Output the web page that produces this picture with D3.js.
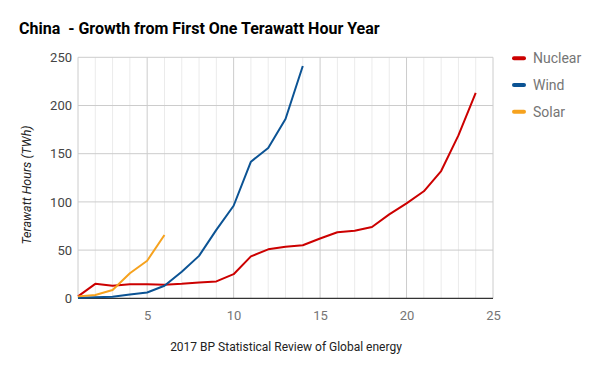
<!DOCTYPE html>
<html>
<head>
<meta charset="utf-8">
<script src="https://cdn.jsdelivr.net/npm/d3@7"></script>
<style>
  body { margin: 0; background: #fff; }
  svg { font-family: Roboto, sans-serif; }
</style>
</head>
<body>
<svg id="chart"></svg>
<script>
let years = d3.range(1, 25)
let nuclear = [2, 15, 13, 14.5, 14.5, 14, 15, 16.5, 17.5, 25, 43.5, 50.8, 53.5, 55, 62, 68.5, 70, 74, 87, 98.5, 111, 132, 169, 213]
let wind = [0.5, 1, 1.5, 4, 6, 13, 27.6, 44, 71, 96, 141.7, 156, 186, 241]
let solar = [2, 3.5, 8.6, 26, 39, 65.7]
let seriesNames = ['Nuclear', 'Wind', 'Solar']
let colors = ['#cc0000', '#0b5394', '#f6a21e']
let xTicks = [5, 10, 15, 20, 25]
let yTicks = [0, 50, 100, 150, 200, 250]

let width = 600
let height = 371
let plotLeft = 78
let plotRight = 493
let plotTop = 57.3
let plotBottom = 298.3

let svg = d3.select('#chart')
    .attr('width', width)
    .attr('height', height)

let xScale = d3.scaleLinear().domain([1, 25]).range([plotLeft, plotRight])
let yScale = d3.scaleLinear().domain([0, 250]).range([plotBottom, plotTop])

// minor vertical grid every 1
svg.append('g')
    .selectAll('line')
    .data(d3.range(2, 25).filter(d => d % 5 != 0))
    .enter()
    .append('line')
    .attr('x1', d => xScale(d)).attr('x2', d => xScale(d))
    .attr('y1', plotTop).attr('y2', plotBottom)
    .attr('stroke', '#ebebeb')

// major vertical grid
svg.append('g')
    .selectAll('line')
    .data(xTicks)
    .enter()
    .append('line')
    .attr('x1', d => xScale(d)).attr('x2', d => xScale(d))
    .attr('y1', plotTop).attr('y2', plotBottom)
    .attr('stroke', '#cccccc')

// horizontal grid
svg.append('g')
    .selectAll('line')
    .data(yTicks.slice(1))
    .enter()
    .append('line')
    .attr('x1', plotLeft).attr('x2', plotRight)
    .attr('y1', d => yScale(d)).attr('y2', d => yScale(d))
    .attr('stroke', '#cccccc')

// left edge
svg.append('line')
    .attr('x1', plotLeft).attr('x2', plotLeft)
    .attr('y1', plotTop).attr('y2', plotBottom)
    .attr('stroke', '#cccccc')

// baseline
svg.append('line')
    .attr('x1', plotLeft).attr('x2', plotRight)
    .attr('y1', yScale(0)).attr('y2', yScale(0))
    .attr('stroke', '#333333')
    .attr('stroke-width', 1.2)

let xAxis = d3.axisBottom(xScale).tickValues(xTicks).tickSize(0).tickPadding(12)
let gx = svg.append('g')
    .attr('transform', 'translate(0,' + plotBottom + ')')
    .call(xAxis)
gx.select('.domain').remove()
gx.selectAll('text').attr('fill', '#757575').style('font-size', '13px').style('font-family', 'Roboto')

let yAxis = d3.axisLeft(yScale).tickValues(yTicks).tickSize(0).tickPadding(6)
let gy = svg.append('g')
    .attr('transform', 'translate(' + plotLeft + ',0)')
    .call(yAxis)
gy.select('.domain').remove()
gy.selectAll('text').attr('fill', '#444444').style('font-size', '13px').style('font-family', 'Roboto')

let line = d3.line()
    .x((d, i) => xScale(years[i]))
    .y(d => yScale(d))

let allSeries = [nuclear, wind, solar]
svg.append('g')
    .selectAll('path')
    .data(allSeries)
    .enter()
    .append('path')
    .attr('d', d => line(d))
    .attr('fill', 'none')
    .attr('stroke', (d, i) => colors[i])
    .attr('stroke-width', 2)
    .attr('stroke-linejoin', 'round')

// title
svg.append('text')
    .attr('x', 19)
    .attr('y', 34)
    .attr('font-weight', 'bold')
    .style('font-size', '16px')
    .style('white-space', 'pre')
    .attr('fill', '#000')
    .text('China  - Growth from First One Terawatt Hour Year')

// y label
svg.append('text')
    .attr('transform', 'translate(31,185) rotate(-90)')
    .attr('text-anchor', 'middle')
    .attr('font-style', 'italic')
    .style('font-size', '12.5px')
    .attr('fill', '#222')
    .text('Terawatt Hours (TWh)')

// x label / source
svg.append('text')
    .attr('x', 286)
    .attr('y', 351)
    .attr('text-anchor', 'middle')
    .style('font-size', '12px')
    .attr('fill', '#222')
    .text('2017 BP Statistical Review of Global energy')

// legend
let legend = svg.append('g')
    .selectAll('g')
    .data(seriesNames)
    .enter()
    .append('g')
    .attr('transform', (d, i) => 'translate(0,' + (58.3 + i * 26.7) + ')')

legend.append('line')
    .attr('x1', 514).attr('x2', 524)
    .attr('stroke', (d, i) => colors[i])
    .attr('stroke-width', 4)
    .attr('stroke-linecap', 'round')

legend.append('text')
    .attr('x', 533)
    .attr('dy', '0.35em')
    .style('font-size', '14px')
    .attr('fill', '#757575')
    .text(d => d)
</script>
</body>
</html>
